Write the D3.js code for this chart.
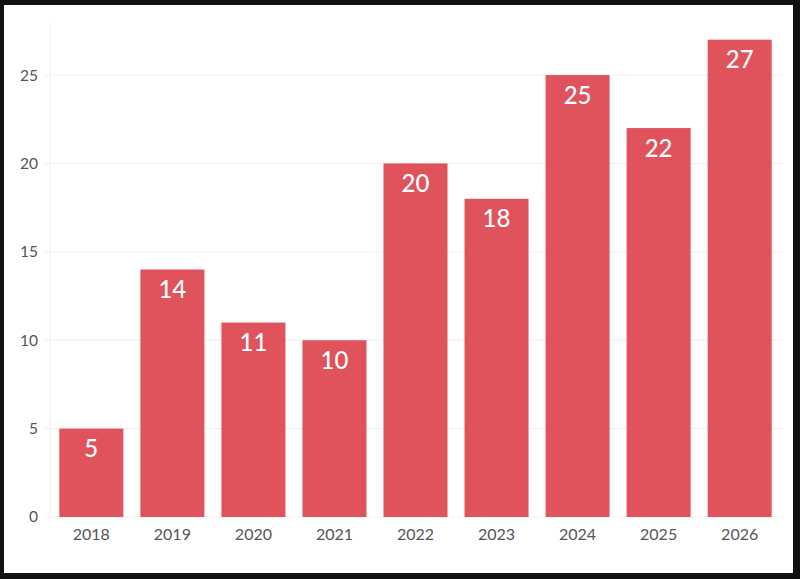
<!DOCTYPE html>
<html>
<head>
<meta charset="utf-8">
<script src="https://cdn.jsdelivr.net/npm/d3@7"></script>
<style>
  html, body { margin: 0; padding: 0; background: #111; }
  svg { display: block; }
</style>
</head>
<body>
<svg id="plot"></svg>
<script>
const width = 800
const height = 579

const years = ['2018', '2019', '2020', '2021', '2022', '2023', '2024', '2025', '2026']
const values = [5, 14, 11, 10, 20, 18, 25, 22, 27]
const yTicks = [0, 5, 10, 15, 20, 25]

var svg = d3.select('#plot')
    .attr('width', width)
    .attr('height', height);

// white card inside the black frame
svg.append('rect')
    .attr('x', 4)
    .attr('y', 5)
    .attr('width', 789)
    .attr('height', 568)
    .attr('fill', '#ffffff');

var xScale = d3.scaleBand()
    .domain(years)
    .range([50, 781])
    .paddingInner(0.21)
    .paddingOuter(0.115);

var yScale = d3.scaleLinear()
    .domain([0, 28])
    .range([517, 22]);

// gridlines
svg.append('g')
    .selectAll('line')
    .data(yTicks)
    .enter()
    .append('line')
    .attr('x1', 45)
    .attr('x2', 783)
    .attr('y1', d => yScale(d))
    .attr('y2', d => yScale(d))
    .attr('stroke', '#efefef')
    .attr('stroke-width', 1);

// vertical axis line
svg.append('line')
    .attr('x1', 50)
    .attr('x2', 50)
    .attr('y1', yScale(28))
    .attr('y2', yScale(0))
    .attr('stroke', '#efefef');

// y axis labels
var yAxis = svg.append('g')
    .attr('transform', 'translate(44,0)')
    .call(d3.axisLeft(yScale).tickValues(yTicks).tickSize(0).tickPadding(6));
yAxis.select('.domain').remove();
yAxis.selectAll('text')
    .attr('font-family', 'Lato, sans-serif')
    .attr('font-size', 15.5)
    .attr('fill', '#555');

// bars
svg.append('g')
    .selectAll('rect')
    .data(values)
    .enter()
    .append('rect')
    .attr('x', (d, i) => xScale(years[i]))
    .attr('y', d => yScale(d))
    .attr('width', xScale.bandwidth())
    .attr('height', d => yScale(0) - yScale(d))
    .attr('fill', '#e0535c');

// value labels inside bars
svg.append('g')
    .selectAll('text')
    .data(values)
    .enter()
    .append('text')
    .attr('x', (d, i) => xScale(years[i]) + xScale.bandwidth() / 2)
    .attr('y', d => yScale(d) + 28.5)
    .attr('text-anchor', 'middle')
    .attr('font-family', 'Lato, sans-serif')
    .attr('font-weight', 500)
    .attr('font-size', 24)
    .attr('fill', '#ffffff')
    .text(d => d);

// x axis labels
var xAxis = svg.append('g')
    .attr('transform', `translate(0,${yScale(0)})`)
    .call(d3.axisBottom(xScale).tickSize(0).tickPadding(12));
xAxis.select('.domain').remove();
xAxis.selectAll('text')
    .attr('font-family', 'Lato, sans-serif')
    .attr('font-size', 16)
    .attr('fill', '#555');
</script>
</body>
</html>
